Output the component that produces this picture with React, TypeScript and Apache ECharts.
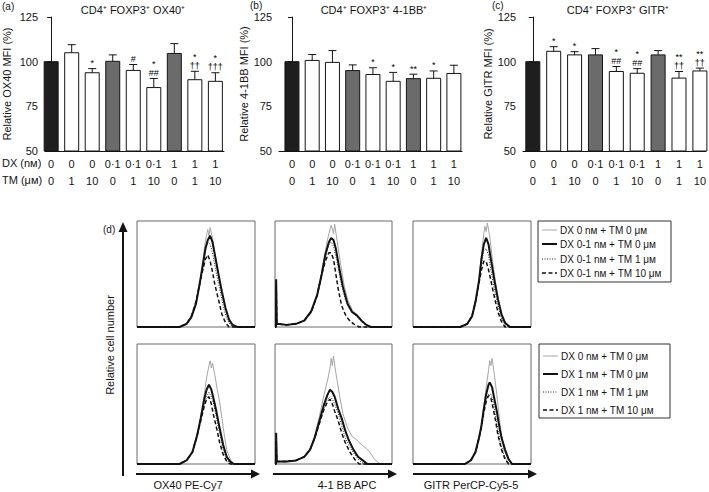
import React, { useEffect, useRef } from "react";
import * as echarts from "echarts";

const FONT = "'Liberation Sans', Arial, Helvetica, sans-serif";
const INK = "#151515";

// ---------- bar panels (a)-(c) ----------
const dxLabels = ["0", "0", "0", "0·1", "0·1", "0·1", "1", "1", "1"];
const tmLabels = ["0", "1", "10", "0", "1", "10", "0", "1", "10"];

const ox40Mean = [100, 105, 93.8, 100.2, 95.1, 85.5, 104.6, 89.9, 89];
const ox40ErrTop = [100, 109.5, 96.1, 103.8, 98.4, 90.6, 110.1, 94.6, 93.8];
const ox40Marks = ["", "", "*", "", "#", "*\n##", "", "*\n††", "*\n†††"];

const bbMean = [100, 100.7, 99.6, 95, 92.8, 89, 90.5, 90.7, 93.4];
const bbErrTop = [100, 104, 106.2, 98.2, 96.6, 94, 93, 94.8, 98];
const bbMarks = ["", "", "", "", "*", "*", "**", "*", ""];

const gitrMean = [100, 105.8, 103.8, 103.8, 94.5, 93.5, 103.8, 90.8, 94.8];
const gitrErrTop = [100, 108.4, 105.6, 107.3, 97.3, 96.1, 106.2, 94.5, 96.4];
const gitrMarks = ["", "*", "*", "", "*\n##", "*\n##", "", "**\n††", "**\n††"];

const titles = ["CD4⁺ FOXP3⁺ OX40⁺", "CD4⁺ FOXP3⁺ 4-1BB⁺", "CD4⁺ FOXP3⁺ GITR⁺"];
const yNames = ["Relative OX40 MFI (%)", "Relative 4-1BB MFI (%)", "Relative GITR MFI (%)"];

// ---------- histograms (d) : [channel %, relative count %] ----------
const grayT1 = [[0,0],[36,0],[42,3],[46,9],[50,22],[53,40],[56,64],[58,82],[60,92],[61,86],[62,94],[64,84],[66,70],[69,50],[72,32],[75,16],[78,6],[81,2],[85,0],[100,0]];
const blackT1 = [[0,0],[36,0],[42,3],[46,9],[50,22],[53,40],[56,60],[58,74],[60,82],[62,86],[64,80],[66,68],[69,50],[72,33],[75,18],[78,7],[81,2],[85,0],[100,0]];
const dotT1 = [[0,0],[36,0],[42,3],[46,9],[50,22],[53,40],[56,58],[58,72],[60,80],[62,78],[64,70],[67,52],[70,36],[73,20],[76,8],[79,2],[83,0],[100,0]];
const dashT1 = [[0,0],[36,0],[42,3],[46,10],[50,24],[53,40],[56,55],[58,64],[60,68],[62,62],[64,52],[66,40],[69,26],[72,12],[75,4],[78,0],[100,0]];

const grayT2 = [[0,0],[0.8,0],[1,40],[1.5,3],[10,2],[18,3],[25,6],[31,14],[36,30],[40,52],[43,72],[46,88],[48,96],[50,88],[51,97],[53,82],[56,60],[59,40],[62,26],[66,16],[70,12],[74,6],[78,2],[83,0],[100,0]];
const blackT2 = [[0,0],[0.8,0],[1,45],[1.5,3],[10,2],[18,3],[25,6],[31,15],[36,30],[40,50],[43,68],[46,80],[48,84],[50,82],[52,74],[55,55],[58,38],[62,22],[66,14],[70,11],[74,6],[78,2],[82,0],[100,0]];
const dotT2 = [[0,0],[0.8,0],[1,42],[1.5,3],[10,2],[18,3],[25,6],[31,14],[36,30],[40,50],[43,66],[46,78],[48,80],[50,76],[53,62],[56,44],[60,26],[64,16],[68,12],[72,7],[76,3],[80,0],[100,0]];
const dashT2 = [[0,0],[0.8,0],[1,40],[1.5,3],[10,2],[18,3],[25,6],[31,14],[36,30],[40,50],[43,62],[46,70],[48,70],[50,64],[52,50],[54,36],[57,20],[60,12],[63,7],[67,3],[72,0],[100,0]];

const grayT3 = [[0,0],[40,0],[46,3],[50,10],[53,24],[56,46],[58,68],[60,88],[61,95],[62,90],[63,98],[65,86],[67,66],[70,42],[73,22],[76,9],[79,3],[83,0],[100,0]];
const blackT3 = [[0,0],[40,0],[46,3],[50,10],[53,24],[56,44],[58,64],[60,78],[62,84],[64,78],[66,64],[69,44],[72,26],[75,12],[78,4],[82,0],[100,0]];
const dotT3 = [[0,0],[40,0],[46,3],[50,10],[53,24],[56,44],[58,60],[60,72],[62,74],[64,68],[66,54],[69,36],[72,20],[75,8],[78,2],[82,0],[100,0]];
const dashT3 = [[0,0],[40,0],[46,3],[50,10],[53,24],[56,42],[58,54],[60,62],[62,62],[64,54],[66,44],[69,28],[72,14],[75,5],[78,0],[100,0]];

const grayB1 = [[0,0],[36,0],[42,3],[47,10],[51,24],[54,40],[57,58],[59,72],[61,82],[62,86],[63,80],[64,84],[66,74],[68,62],[70,52],[72,38],[74,24],[76,12],[79,4],[82,0],[100,0]];
const blackB1 = [[0,0],[36,0],[42,3],[47,10],[51,24],[54,38],[57,54],[59,62],[61,66],[63,62],[65,54],[67,45],[70,30],[73,16],[76,6],[79,2],[82,0],[100,0]];
const dotB1 = [[0,0],[36,0],[42,3],[47,10],[51,24],[54,37],[57,50],[59,56],[61,60],[63,56],[65,50],[67,40],[70,26],[73,12],[76,4],[79,0],[100,0]];
const dashB1 = [[0,0],[36,0],[42,3],[47,10],[51,24],[54,36],[57,48],[59,54],[61,56],[63,50],[65,40],[67,32],[70,18],[73,8],[76,2],[79,0],[100,0]];

const grayB2 = [[0,0],[0.8,0],[1,24],[1.5,2],[10,2],[18,3],[25,6],[30,12],[34,24],[38,40],[42,58],[45,70],[47,80],[48,88],[49,82],[50,90],[52,76],[55,58],[58,42],[62,30],[66,23],[70,20],[74,16],[78,13],[81,10],[85,4],[90,0],[100,0]];
const blackB2 = [[0,0],[0.8,0],[1,26],[1.5,2],[10,2],[18,3],[25,6],[30,12],[34,22],[38,36],[42,50],[45,58],[47,62],[49,60],[51,56],[54,46],[57,38],[60,28],[63,20],[67,12],[71,6],[75,3],[79,0],[100,0]];
const dotB2 = [[0,0],[0.8,0],[1,22],[1.5,2],[10,2],[18,3],[25,6],[30,12],[34,22],[38,34],[42,48],[45,54],[47,56],[49,54],[51,50],[54,42],[57,32],[60,22],[64,14],[68,8],[72,3],[76,0],[100,0]];
const dashB2 = [[0,0],[0.8,0],[1,20],[1.5,2],[10,2],[18,3],[25,6],[30,12],[34,22],[38,34],[42,46],[45,52],[47,54],[49,50],[51,44],[54,36],[57,26],[60,18],[64,10],[68,4],[72,0],[100,0]];

const grayB3 = [[0,0],[44,0],[49,3],[53,10],[56,22],[58,32],[60,48],[62,64],[64,78],[65,86],[66,82],[67,88],[69,74],[71,58],[73,40],[75,24],[77,12],[80,5],[84,0],[100,0]];
const blackB3 = [[0,0],[44,0],[49,3],[53,10],[56,22],[58,32],[60,46],[62,58],[64,66],[65,68],[67,64],[69,54],[71,44],[73,32],[75,22],[78,12],[81,4],[84,0],[100,0]];
const dotB3 = [[0,0],[44,0],[49,3],[53,10],[56,22],[58,31],[60,44],[62,54],[64,58],[66,58],[68,52],[70,40],[72,28],[74,18],[77,8],[80,2],[83,0],[100,0]];
const dashB3 = [[0,0],[44,0],[49,3],[53,10],[56,22],[58,31],[60,43],[62,52],[64,57],[66,55],[68,46],[70,36],[72,24],[75,12],[78,4],[81,0],[100,0]];

const legendTop = ["DX 0 nм + TM 0 μм", "DX 0-1 nм + TM 0 μм", "DX 0-1 nм + TM 1 μм", "DX 0-1 nм + TM 10 μм"];
const legendBottom = ["DX 0 nм + TM 0 μм", "DX 1 nм + TM 0 μм", "DX 1 nм + TM 1 μм", "DX 1 nм + TM 10 μм"];
const channelLabels = ["OX40 PE-Cy7", "4-1 BB APC", "GITR PerCP-Cy5-5"];

const curveStyles = [
  { color: "#a6a6a6", width: 1, type: "solid" as any },
  { color: "#111111", width: 2, type: "solid" as any },
  { color: "#222222", width: 1, type: [1, 1.5] as any },
  { color: "#111111", width: 1.5, type: [4, 2.5] as any },
];

function barFill(i: number) {
  if (tmLabels[i] !== "0") return "#ffffff";
  return dxLabels[i] === "0" ? "#1e1e1e" : "#6b6b6b";
}

export default function App() {
  const ref = useRef<HTMLDivElement>(null);
  useEffect(() => {
    if (!ref.current) return;
    const chart = echarts.init(ref.current, undefined, { renderer: "svg" });

    const barPanels = [
      { mean: ox40Mean, err: ox40ErrTop, marks: ox40Marks, left: 45, width: 179, min: -0.3, max: 8.42, gap: 33 },
      { mean: bbMean, err: bbErrTop, marks: bbMarks, left: 279, width: 183, min: -0.64, max: 8.4, gap: 30 },
      { mean: gitrMean, err: gitrErrTop, marks: gitrMarks, left: 523, width: 185, min: -0.47, max: 8.28, gap: 29 },
    ];
    const histGrids = [
      { left: 137, top: 221, width: 118, height: 106, curves: [grayT1, blackT1, dotT1, dashT1] },
      { left: 275, top: 221, width: 117, height: 106, curves: [grayT2, blackT2, dotT2, dashT2] },
      { left: 413, top: 221, width: 118, height: 106, curves: [grayT3, blackT3, dotT3, dashT3] },
      { left: 137, top: 344, width: 118, height: 120, curves: [grayB1, blackB1, dotB1, dashB1] },
      { left: 275, top: 344, width: 117, height: 120, curves: [grayB2, blackB2, dotB2, dashB2] },
      { left: 413, top: 344, width: 118, height: 120, curves: [grayB3, blackB3, dotB3, dashB3] },
    ];

    const grid: any[] = [];
    const xAxis: any[] = [];
    const yAxis: any[] = [];
    const series: any[] = [];
    const idx = dxLabels.map((_, i) => i);

    barPanels.forEach((p, k) => {
      grid.push({ left: p.left, top: 17, width: p.width, height: 134 });
      xAxis.push({
        type: "value", gridIndex: k, min: p.min, max: p.max,
        axisLine: { show: true, lineStyle: { color: INK, width: 1 } },
        axisTick: { show: false }, splitLine: { show: false },
        axisLabel: {
          customValues: idx, margin: 4, fontSize: 11, lineHeight: 17, color: INK, fontFamily: FONT,
          formatter: (v: number) => `${dxLabels[Math.round(v)]}\n${tmLabels[Math.round(v)]}`,
        },
      });
      yAxis.push({
        type: "value", gridIndex: k, min: 50, max: 125, interval: 25,
        name: yNames[k], nameLocation: "middle", nameGap: p.gap,
        nameTextStyle: { fontSize: 11, color: INK, fontFamily: FONT },
        axisLine: { show: true, lineStyle: { color: INK, width: 1 } },
        axisTick: { show: true, length: 4, lineStyle: { color: INK } },
        splitLine: { show: false },
        axisLabel: { fontSize: 11, color: INK, margin: 7, fontFamily: FONT },
      });
      const marks = p.marks;
      series.push({
        type: "custom", xAxisIndex: k, yAxisIndex: k, clip: false,
        dimensions: ["x", "y", "e"], encode: { x: 0, y: 1 },
        itemStyle: { color: INK },
        data: p.mean.map((v, i) => [i, v, p.err[i]]),
        renderItem: (params: any, api: any) => {
          const i = api.value(0);
          const v = api.value(1);
          const e = api.value(2);
          const base = api.coord([i, 50]);
          const top = api.coord([i, v]);
          const ep = api.coord([i, e]);
          const bw = 14;
          const cx = top[0];
          const children: any[] = [
            { type: "rect", shape: { x: cx - bw / 2, y: top[1], width: bw, height: base[1] - top[1] },
              style: { fill: barFill(i), stroke: INK, lineWidth: 1 } },
          ];
          let markY = top[1];
          if (e > v) {
            children.push({ type: "line", shape: { x1: cx, y1: top[1], x2: cx, y2: ep[1] }, style: { stroke: INK, lineWidth: 1 } });
            children.push({ type: "line", shape: { x1: cx - 4, y1: ep[1], x2: cx + 4, y2: ep[1] }, style: { stroke: INK, lineWidth: 1 } });
            markY = ep[1];
          }
          if (marks[i]) {
            children.push({ type: "text", style: { text: marks[i], x: cx, y: markY - 1, align: "center", verticalAlign: "bottom",
              fontSize: 9, lineHeight: 9, fill: "#000000", stroke: "none", lineWidth: 0, fontFamily: FONT } });
          }
          return { type: "group", children };
        },
      });
    });

    histGrids.forEach((h, j) => {
      const g = 3 + j;
      grid.push({ left: h.left, top: h.top, width: h.width, height: h.height, show: true,
        borderColor: "#6a6a6a", borderWidth: 1, backgroundColor: "transparent" });
      xAxis.push({ type: "value", gridIndex: g, min: 0, max: 100, show: false });
      yAxis.push({ type: "value", gridIndex: g, min: 0, max: 100, show: false });
      h.curves.forEach((c, s) => {
        const st = curveStyles[s];
        series.push({
          type: "line", xAxisIndex: g, yAxisIndex: g, data: c, showSymbol: false, symbol: "none",
          clip: false, silent: true,
          lineStyle: { color: st.color, width: st.width, type: st.type },
        });
      });
    });

    const txt = (text: string, x: number, y: number, extra: any = {}) => ({
      type: "text", x, y, silent: true,
      style: { text, fill: INK, fontSize: 11, fontFamily: FONT, ...extra },
    });

    const graphic: any[] = [
      txt("(a)", 2, 1, { fontSize: 10 }),
      txt("(b)", 250, 0, { fontSize: 10 }),
      txt("(c)", 492, 0, { fontSize: 10 }),
      txt(titles[0], 133, 10, { align: "center", verticalAlign: "middle" }),
      txt(titles[1], 374, 10, { align: "center", verticalAlign: "middle" }),
      txt(titles[2], 618, 10, { align: "center", verticalAlign: "middle" }),
      txt("DX (nм)", 2, 163, { verticalAlign: "middle" }),
      txt("TM (μм)", 2, 180, { verticalAlign: "middle" }),
      txt("(d)", 103, 229, { fontSize: 10, verticalAlign: "middle" }),
      { type: "text", x: 110, y: 345, rotation: Math.PI / 2, silent: true,
        style: { text: "Relative cell number", fill: INK, fontSize: 11, fontFamily: FONT, align: "center", verticalAlign: "middle" } },
      // y arrow
      { type: "line", silent: true, shape: { x1: 123, y1: 476, x2: 123, y2: 230 }, style: { stroke: INK, lineWidth: 2 } },
      { type: "polygon", silent: true, shape: { points: [[123, 222], [118.5, 232], [127.5, 232]] }, style: { fill: INK } },
    ];
    const arrowSpans = [[136, 260], [273, 397], [413, 537]];
    const labelCenters = [188, 347, 471];
    arrowSpans.forEach(([a, b], k) => {
      graphic.push({ type: "line", silent: true, shape: { x1: a, y1: 474, x2: b - 6, y2: 474 }, style: { stroke: INK, lineWidth: 2 } });
      graphic.push({ type: "polygon", silent: true, shape: { points: [[b, 474], [b - 9, 469.5], [b - 9, 478.5]] }, style: { fill: INK } });
      graphic.push(txt(channelLabels[k], labelCenters[k], 485, { align: "center", verticalAlign: "middle" }));
    });

    const legends = [
      { box: { x: 538, y: 221, width: 133, height: 61 }, rows: [230, 244, 259, 273], texts: legendTop },
      { box: { x: 539, y: 344, width: 131, height: 74 }, rows: [356, 374, 392, 410], texts: legendBottom },
    ];
    legends.forEach((L) => {
      graphic.push({ type: "rect", silent: true, shape: L.box, style: { fill: "none", stroke: "#333", lineWidth: 1 } });
      L.rows.forEach((ry, s) => {
        const st = curveStyles[s];
        graphic.push({ type: "line", silent: true, shape: { x1: L.box.x + 4, y1: ry, x2: L.box.x + 19, y2: ry },
          style: { stroke: st.color, lineWidth: st.width, lineDash: Array.isArray(st.type) ? st.type : null } });
        graphic.push(txt(L.texts[s], L.box.x + 22, ry, { fontSize: 10, verticalAlign: "middle" }));
      });
    });

    chart.setOption({
      animation: false,
      backgroundColor: "#ffffff",
      textStyle: { fontFamily: FONT },
      grid, xAxis, yAxis, series, graphic,
    });
    return () => chart.dispose();
  }, []);
  return <div ref={ref} style={{ position: "absolute", left: 0, top: 0, width: 709, height: 492 }} />;
}
